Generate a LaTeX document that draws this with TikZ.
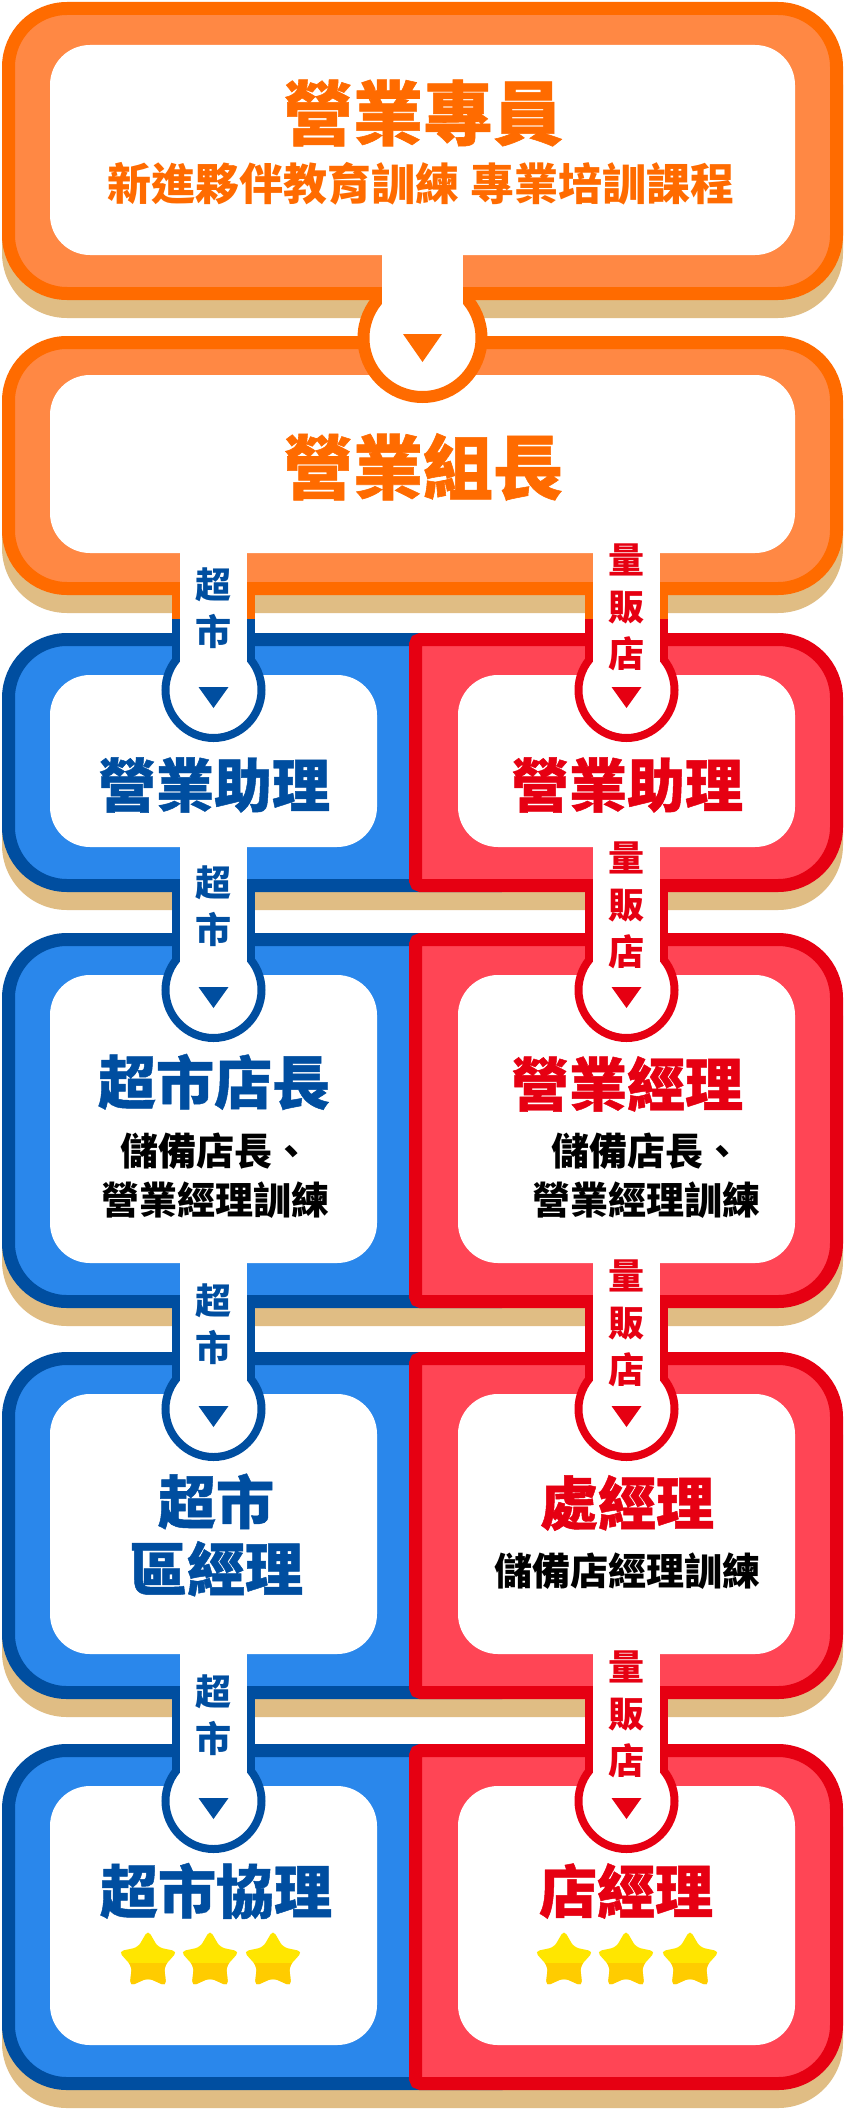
\documentclass[tikz,border=0pt]{standalone}
\usepackage{fontspec}
\newfontfamily\cjk{Noto Sans CJK TC}
\newfontfamily\cjkheavy{Noto Sans CJK TC}[BoldFeatures={FakeBold=0.8}]
\usetikzlibrary{positioning}
\definecolor{orgdark}{HTML}{FF6B00}
\definecolor{orglight}{HTML}{FF8844}
\definecolor{shadowtan}{HTML}{E0BD84}
\definecolor{bluedark}{HTML}{004EA0}
\definecolor{bluelight}{HTML}{2A87EB}
\definecolor{reddark}{HTML}{E60012}
\definecolor{redlight}{HTML}{FF4555}
\definecolor{staryel}{HTML}{FFE600}
\definecolor{starorg}{HTML}{FFCC00}
\tikzset{
  % box outlines
  orgbox/.style={fill=orglight, draw=orgdark, line width=13pt, rounded corners=58.5pt},
  bluebox/.style={fill=bluelight, draw=bluedark, line width=13pt, rounded corners=58.5pt},
  redbox/.style={fill=redlight, draw=reddark, line width=13pt},
  card/.style={fill=white, rounded corners=40pt},
  % texts
  bigtitle/.style={inner sep=0pt, align=center, font=\cjkheavy\bfseries\fontsize{70}{72}\selectfont},
  title/.style={inner sep=0pt, align=center, font=\cjkheavy\bfseries\fontsize{58}{67}\selectfont},
  sub/.style={inner sep=0pt, align=center, font=\cjk\bfseries\fontsize{38}{49}\selectfont},
  tag/.style={inner sep=0pt, align=center, font=\cjk\bfseries\fontsize{36}{47}\selectfont},
}
\begin{document}
\begin{tikzpicture}[x=1pt, y=-1pt]
  \useasboundingbox (0,0) rectangle (845,2111);
  \fill[white] (0,0) rectangle (845,2111);

  % top boxes
  \fill[shadowtan, rounded corners=65pt] (2,20) rectangle (843,318);
  \draw[orgbox] (8.5,8.5) rectangle (836.5,293.5);
  \fill[card] (50,45) rectangle (795,255);

  \fill[shadowtan, rounded corners=65pt] (2,354) rectangle (843,613);
  \draw[orgbox] (8.5,342.5) rectangle (836.5,588.5);
  \fill[card] (50,375) rectangle (795,553);

  % first connector
  \draw[orgdark, line width=12pt, fill=white] (422.5,338) circle[radius=59pt];
  \fill[white] (382,255) rectangle (463,338);
  \fill[orgdark] (403,334) -- (442,334) -- (422.5,362) -- cycle;

  % blue / red rows
  \foreach \ya/\yb in {633/892, 933/1308, 1352/1699, 1744/2090}{
    \fill[shadowtan, rounded corners=65pt] (2,{\ya+18}) rectangle (843,{\yb+18});
    \draw[bluebox] (8.5,{\ya+6.5}) rectangle (560,{\yb-6.5});
    \begin{scope}
      \clip (400,0) rectangle (600,2111);
      \draw[redbox, rounded corners=5pt] (415.5,{\ya+6.5}) rectangle (836.5,{\yb-6.5});
    \end{scope}
    \begin{scope}
      \clip (600,0) rectangle (845,2111);
      \draw[redbox, rounded corners=58.5pt] (415.5,{\ya+6.5}) rectangle (836.5,{\yb-6.5});
    \end{scope}
    \fill[card] (50,{\ya+42}) rectangle (377,{\yb-45});
    \fill[card] (458,{\ya+42}) rectangle (795,{\yb-45});
  }

  % connectors between rows
  \foreach \cx/\yu/\yb/\yc/\cu/\cl in {
      213.5/553/595/633/orgdark/bluedark, 626.5/553/595/633/orgdark/reddark,
      213.5/847/892/933/bluedark/bluedark, 626.5/847/892/933/reddark/reddark,
      213.5/1263/1308/1352/bluedark/bluedark, 626.5/1263/1308/1352/reddark/reddark,
      213.5/1654/1699/1744/bluedark/bluedark, 626.5/1654/1699/1744/reddark/reddark}{
    \fill[\cu] ({\cx-41.5},{\yb-13}) rectangle ({\cx+41.5},{\yb+24});
    \fill[\cl] ({\cx-41.5},{\yb+24}) rectangle ({\cx+41.5},{\yc+57});
    \draw[\cl, line width=8pt, fill=white] (\cx,{\yc+57}) circle[radius=48pt];
    \fill[white] ({\cx-33.5},\yu) rectangle ({\cx+33.5},{\yc+57});
    \fill[\cl] ({\cx-15},{\yc+54}) -- ({\cx+15},{\yc+54}) -- (\cx,{\yc+75}) -- cycle;
  }

  % connector tags
  \node[tag, text=bluedark] (tagmA) at (213.5,608) {超\\市};
  \node[tag, text=reddark] (tagsA) at (626.5,607) {量\\販\\店};
  \node[tag, text=bluedark] (tagmB) at (213.5,906.5) {超\\市};
  \node[tag, text=reddark] (tagsB) at (626.5,905.5) {量\\販\\店};
  \node[tag, text=bluedark] (tagmC) at (213.5,1324) {超\\市};
  \node[tag, text=reddark] (tagsC) at (626.5,1323) {量\\販\\店};
  \node[tag, text=bluedark] (tagmD) at (213.5,1715.5) {超\\市};
  \node[tag, text=reddark] (tagsD) at (626.5,1714.5) {量\\販\\店};

  % box texts
  \node[bigtitle, text=orgdark] (clerk) at (423,113) {營業專員};
  \node[sub, text=orgdark, font=\cjk\bfseries\fontsize{44}{46}\selectfont] (clerksub) at (421,184) {新進夥伴教育訓練 專業培訓課程};
  \node[bigtitle, text=orgdark] (leader) at (423,467) {營業組長};

  \node[title, text=bluedark] (assistm) at (214,785) {營業助理};
  \node[title, text=reddark] (assists) at (627,785) {營業助理};

  \node[title, text=bluedark] (storem) at (214,1082) {超市店長};
  \node[sub] (storemsub) at (215,1176) {儲備店長、\\營業經理訓練};
  \node[title, text=reddark] (mgrs) at (627,1084) {營業經理};
  \node[sub] (mgrssub) at (646,1176) {儲備店長、\\營業經理訓練};

  \node[title, text=bluedark] (aream) at (216,1535) {超市\\區經理};
  \node[title, text=reddark] (divs) at (627,1503) {處經理};
  \node[sub] (divssub) at (627,1571) {儲備店經理訓練};

  \node[title, text=bluedark] (assocm) at (216,1891) {超市協理};
  \node[title, text=reddark] (shops) at (626,1891) {店經理};

  % stars
  \foreach \sx in {148,210,273,564,626,690}{
    \begin{scope}[shift={(\sx,1961)}]
      \clip[rounded corners=5pt] (270:31) -- (306:17) -- (342:31) -- (18:17) -- (54:31)
        -- (90:17) -- (126:31) -- (162:17) -- (198:31) -- (234:17) -- cycle;
      \fill[staryel] (-35,-35) rectangle (35,35);
      \fill[starorg] (-35,2) rectangle (35,35);
    \end{scope}
  }
\end{tikzpicture}
\end{document}
